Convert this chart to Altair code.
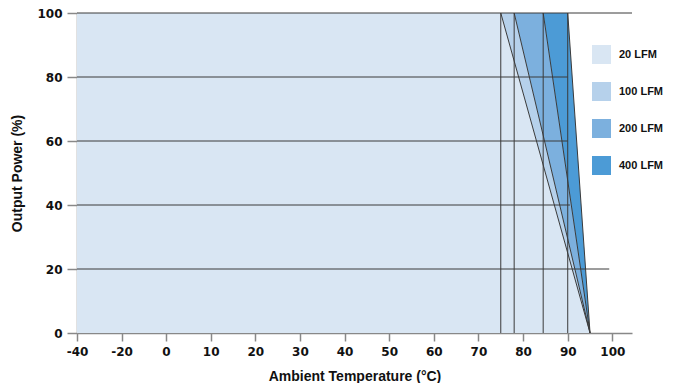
import altair as alt
import pandas as pd

# ---- data ----
series = ["20 LFM", "100 LFM", "200 LFM", "400 LFM"]
colors = ["#d9e6f3", "#b6d1eb", "#7cb0de", "#4c9bd6"]
derate_start = [75, 78, 84.5, 90]    # temperature (°C) where derating begins, per airflow
t_min = -40                          # lowest operating temperature
t_zero = 95                          # temperature where output reaches 0 %
x_ticks = [-40, -20, 0, 10, 20, 30, 40, 50, 60, 70, 80, 90, 100]
y_ticks = [0, 20, 40, 60, 80, 100]
grid_y = [20, 40, 60, 80, 100]
grid_end = [99.3, 90.5, 90, 90, 104.4]
x_domain = [-40, 0, 104.4]

# ---- tables ----
rows = []
for i, s in enumerate(series):
    left_top = t_min if i == 0 else derate_start[i - 1]
    left_bot = t_min if i == 0 else t_zero
    rows.append(dict(series=s, y=100, x=left_top, x2=derate_start[i]))
    rows.append(dict(series=s, y=0, x=left_bot, x2=t_zero))
regions = pd.DataFrame(rows)

verts = pd.DataFrame({"x": derate_start, "y": [0] * 4, "y2": [100] * 4})
diags = pd.DataFrame({"x": derate_start, "y": [100] * 4, "x2": [t_zero] * 4, "y2": [0] * 4})
grid = pd.DataFrame({"y": grid_y, "x": [t_min] * len(grid_y), "x2": grid_end})

W, H = 555, 320
xs = alt.Scale(domain=x_domain, range=[0, 89, W], nice=False, zero=False)
ys = alt.Scale(domain=[0, 100], nice=False, zero=False)

x_axis = alt.Axis(
    values=x_ticks, labelExpr="'' + datum.value", grid=False, labelFlush=False,
    labelFont="DejaVu Sans", labelFontWeight="bold", labelFontSize=12, labelColor="#111",
    labelPadding=5, tickColor="#888", tickSize=8, tickWidth=1.5,
    domainColor="#888", domainWidth=1.5,
    title="Ambient Temperature (°C)", titleFont="Liberation Sans", titleFontSize=14,
    titleFontWeight="bold", titleColor="#111", titlePadding=12,
)
y_axis = alt.Axis(
    values=y_ticks, grid=False, labelFlush=False,
    labelFont="DejaVu Sans", labelFontWeight="bold", labelFontSize=12, labelColor="#111",
    labelPadding=5, tickColor="#888", tickSize=10, tickWidth=1.5,
    domainColor="#888", domainWidth=1.5,
    title="Output Power (%)", titleFont="Liberation Sans", titleFontSize=14,
    titleFontWeight="bold", titleColor="#111", titlePadding=12,
)

areas = alt.Chart(regions).mark_area(opacity=1, orient="horizontal").encode(
    y=alt.Y("y:Q", scale=ys, axis=y_axis),
    x=alt.X("x:Q", scale=xs, axis=x_axis, stack=None),
    x2="x2:Q",
    color=alt.Color(
        "series:N",
        scale=alt.Scale(domain=series, range=colors),
        legend=alt.Legend(
            orient="none", legendX=515, legendY=32, title=None, padding=0,
            symbolType="square", symbolSize=361, symbolStrokeWidth=0, symbolOpacity=1,
            labelFont="Liberation Sans", labelFontWeight="bold", labelFontSize=11,
            labelColor="#111", labelOffset=8, rowPadding=18,
        ),
    ),
)

line_color = "#3a3a3a"
grid_rules = alt.Chart(grid).mark_rule(color=line_color, strokeWidth=1).encode(
    y=alt.Y("y:Q", scale=ys, axis=y_axis),
    x=alt.X("x:Q", scale=xs, axis=x_axis),
    x2="x2:Q",
)
vert_rules = alt.Chart(verts).mark_rule(color=line_color, strokeWidth=1).encode(
    x=alt.X("x:Q", scale=xs, axis=x_axis),
    y=alt.Y("y:Q", scale=ys, axis=y_axis),
    y2="y2:Q",
)
diag_rules = alt.Chart(diags).mark_rule(color=line_color, strokeWidth=1).encode(
    x=alt.X("x:Q", scale=xs, axis=x_axis),
    x2="x2:Q",
    y=alt.Y("y:Q", scale=ys, axis=y_axis),
    y2="y2:Q",
)

chart = alt.layer(areas, grid_rules, vert_rules, diag_rules).properties(
    width=W, height=H,
    autosize=alt.AutoSizeParams(type="none"),
    padding={"left": 69, "top": 5, "right": 36, "bottom": 50},
).configure_view(stroke=None)

chart.save("out.html", embed_options={"renderer": "svg", "actions": False})
